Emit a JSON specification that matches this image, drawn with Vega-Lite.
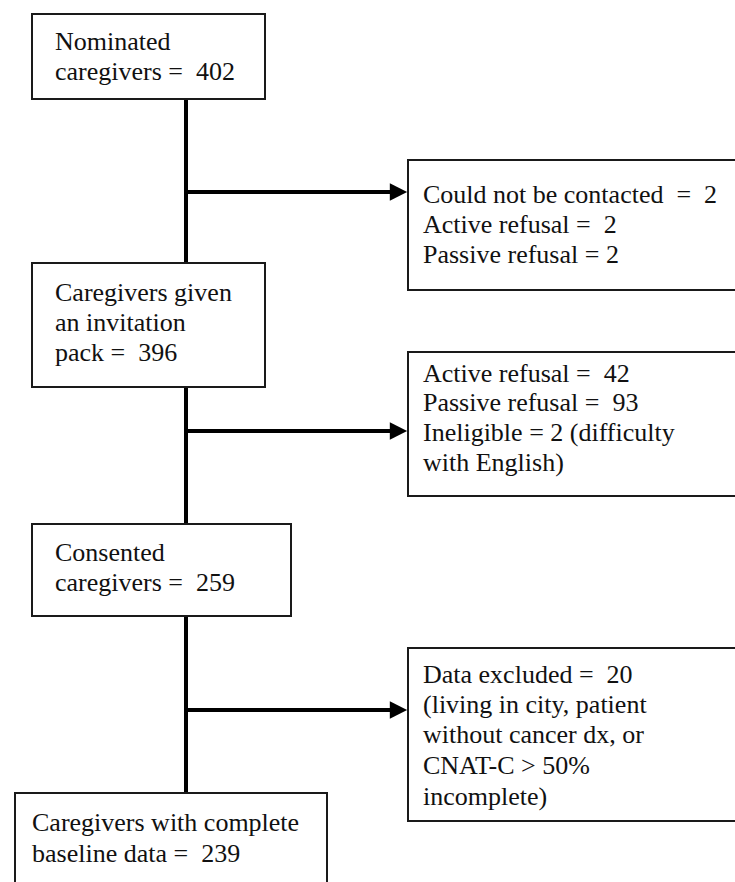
{
  "$schema": "https://vega.github.io/schema/vega-lite/v6.json",
  "width": 735,
  "height": 882,
  "autosize": {"type": "fit", "contains": "padding"},
  "padding": 0,
  "background": "white",
  "config": {"view": {"stroke": null}},
  "datasets": {
    "boxes": [
      {"id": "b1", "x0": 32, "x1": 265, "y0": 14, "y1": 99},
      {"id": "b2", "x0": 32, "x1": 265, "y0": 263, "y1": 387},
      {"id": "b3", "x0": 32, "x1": 291, "y0": 524, "y1": 616},
      {"id": "b4", "x0": 15, "x1": 327, "y0": 793, "y1": 892},
      {"id": "r1", "x0": 408, "x1": 745, "y0": 160, "y1": 290},
      {"id": "r2", "x0": 408, "x1": 745, "y0": 352, "y1": 496},
      {"id": "r3", "x0": 408, "x1": 745, "y0": 648, "y1": 821}
    ],
    "links": [
      {"x0": 186, "x1": 186, "y0": 99, "y1": 793},
      {"x0": 186, "x1": 394, "y0": 192, "y1": 192},
      {"x0": 186, "x1": 394, "y0": 431, "y1": 431},
      {"x0": 186, "x1": 394, "y0": 710, "y1": 710}
    ],
    "heads": [
      {"x": 398.5, "y": 192},
      {"x": 398.5, "y": 431},
      {"x": 398.5, "y": 710}
    ],
    "labels": [
      {"x": 55, "y": 50, "t": "Nominated"},
      {"x": 55, "y": 80, "t": "caregivers = \u00a0402"},
      {"x": 55, "y": 301, "t": "Caregivers given"},
      {"x": 55, "y": 331, "t": "an invitation"},
      {"x": 55, "y": 361, "t": "pack = \u00a0396"},
      {"x": 55, "y": 561, "t": "Consented"},
      {"x": 55, "y": 591, "t": "caregivers = \u00a0259"},
      {"x": 32, "y": 831, "t": "Caregivers with complete"},
      {"x": 32, "y": 862, "t": "baseline data = \u00a0239"},
      {"x": 423, "y": 203, "t": "Could not be contacted \u00a0= \u00a02"},
      {"x": 423, "y": 233, "t": "Active refusal = \u00a02"},
      {"x": 423, "y": 263, "t": "Passive refusal = 2"},
      {"x": 423, "y": 382, "t": "Active refusal = \u00a042"},
      {"x": 423, "y": 411, "t": "Passive refusal = \u00a093"},
      {"x": 423, "y": 441, "t": "Ineligible = 2 (difficulty"},
      {"x": 423, "y": 471, "t": "with English)"},
      {"x": 423, "y": 683, "t": "Data excluded = \u00a020"},
      {"x": 423, "y": 713, "t": "(living in city, patient"},
      {"x": 423, "y": 743, "t": "without cancer dx, or"},
      {"x": 423, "y": 774, "t": "CNAT-C > 50%"},
      {"x": 423, "y": 805, "t": "incomplete)"}
    ]
  },
  "layer": [
    {
      "data": {"name": "links"},
      "mark": {"type": "rule", "color": "black", "strokeWidth": 4},
      "encoding": {
        "x": {"field": "x0", "type": "quantitative", "scale": {"domain": [0, 735], "nice": false, "zero": false}, "axis": null},
        "x2": {"field": "x1"},
        "y": {"field": "y0", "type": "quantitative", "scale": {"domain": [0, 882], "nice": false, "zero": false, "reverse": true}, "axis": null},
        "y2": {"field": "y1"}
      }
    },
    {
      "data": {"name": "boxes"},
      "mark": {"type": "rect", "fill": "white", "stroke": "#1a1a1a", "strokeWidth": 2, "clip": true},
      "encoding": {
        "x": {"field": "x0", "type": "quantitative"},
        "x2": {"field": "x1"},
        "y": {"field": "y0", "type": "quantitative"},
        "y2": {"field": "y1"}
      }
    },
    {
      "data": {"name": "heads"},
      "mark": {"type": "point", "shape": "M-1,-1L1,0L-1,1Z", "filled": true, "color": "black", "opacity": 1, "size": 300},
      "encoding": {
        "x": {"field": "x", "type": "quantitative"},
        "y": {"field": "y", "type": "quantitative"}
      }
    },
    {
      "data": {"name": "labels"},
      "mark": {"type": "text", "align": "left", "baseline": "alphabetic", "font": "Times New Roman, Liberation Serif, DejaVu Serif, serif", "fontSize": 26, "color": "#111"},
      "encoding": {
        "x": {"field": "x", "type": "quantitative"},
        "y": {"field": "y", "type": "quantitative"},
        "text": {"field": "t"}
      }
    }
  ]
}
